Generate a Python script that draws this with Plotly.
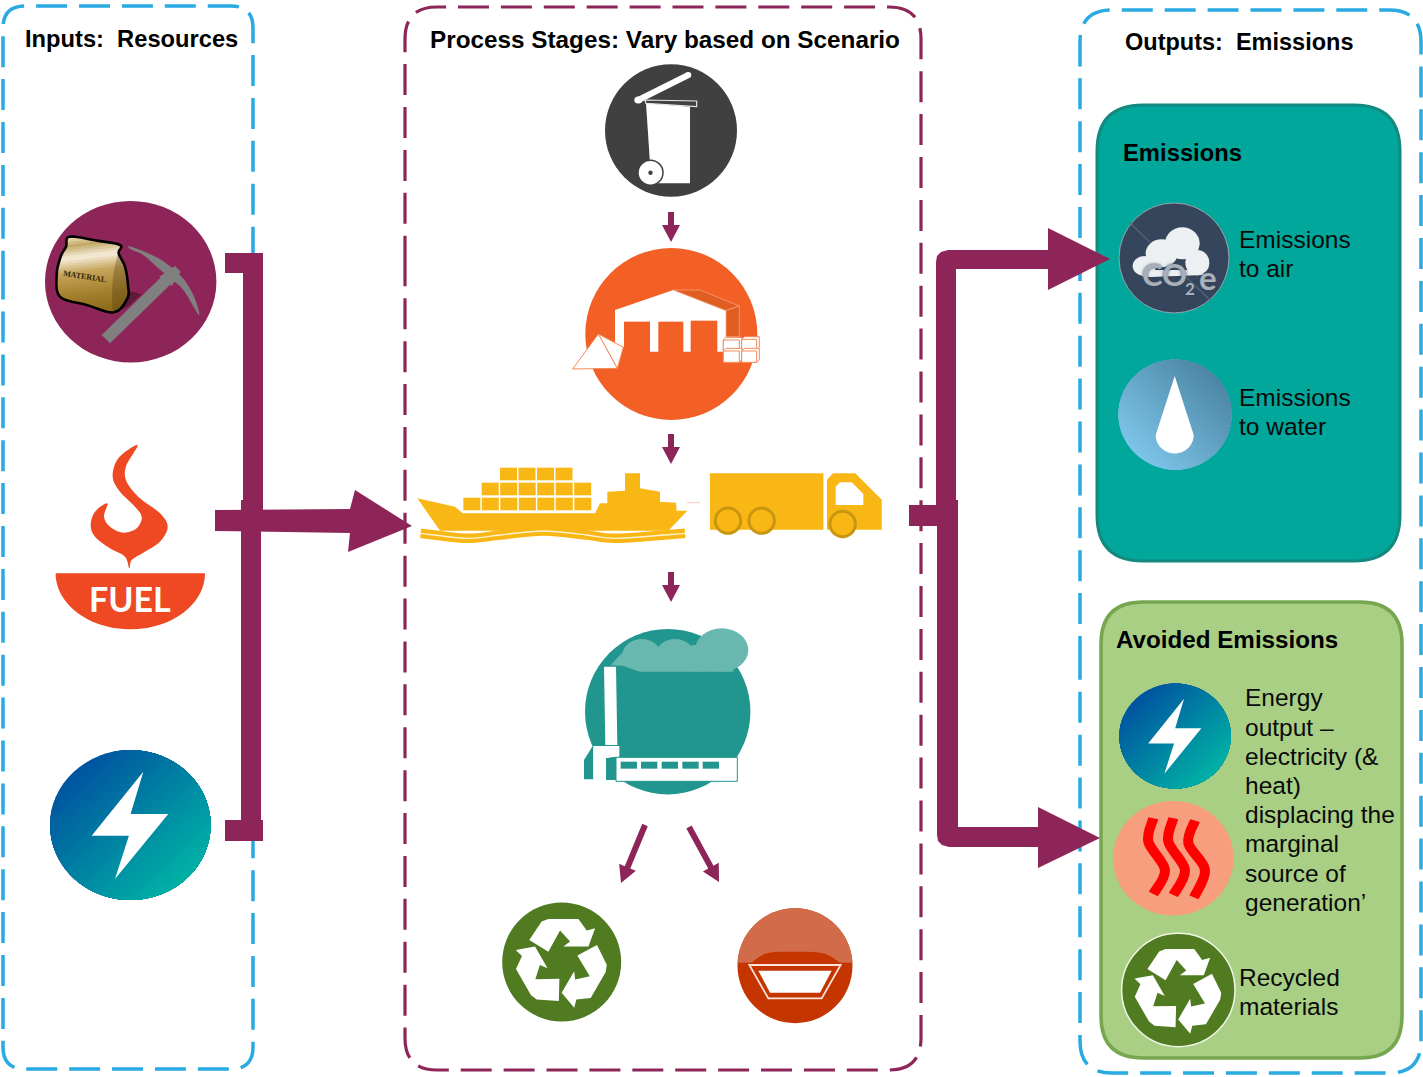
import numpy as np
import plotly.graph_objects as go

# ---------- palette ----------
BLUE = "#29ABE2"; PURPLE = "#8E2558"; TEAL = "#00A79A"; GREEN_BOX = "#A9CF85"; GREEN_EDGE = "#76A74F"
BIN = "#404040"; ORANGE = "#F26026"; YELLOW = "#F9B716"; FACTORY = "#21968E"; CLOUD = "#68B8B0"
RECYCLE = "#507B20"; FUEL = "#EF4923"; NAVY = "#35465C"

# ---------- texts: (text, left x, middle y, size) ----------
bold_labels = [("Inputs:  Resources", 23, 39, 23.7), ("Process Stages: Vary based on Scenario", 428, 39, 24.3),
               ("Outputs:  Emissions", 1123, 42, 23.5), ("Emissions", 1121, 152, 23.8), ("Avoided Emissions", 1114, 639, 24.2)]
body_labels = [("Emissions", 1237, 239), ("to air", 1237, 268), ("Emissions", 1237, 397), ("to water", 1237, 426),
               ("Energy", 1243, 697), ("output –", 1243, 727), ("electricity (&", 1243, 756), ("heat)", 1243, 785),
               ("displacing the", 1243, 814), ("marginal", 1243, 843), ("source of", 1243, 873), ("generation’", 1243, 902),
               ("Recycled", 1237, 977), ("materials", 1237, 1006)]

# ---------- panels: x0, y0, x1, y1, radius; dash phase y on the left side ----------
panel_inputs = (3, 6, 253, 1069, 22)
panel_process = (405, 7, 921, 1070, 32)
panel_outputs = (1080, 10, 1421, 1073, 32)
phase_inputs, phase_process, phase_outputs = 281.7, 266.7, 667.0
box_emissions = (1097, 105, 1400, 561, 46)
box_avoided = (1101, 602, 1402, 1058, 42)

# ---------- connectors ----------
bracket_left = [[(225, 253), (263, 253), (263, 510), (243, 510), (243, 273), (225, 273)],
                [(241, 500), (261, 500), (261, 820), (263, 820), (263, 841), (225, 841), (225, 820), (241, 820)]]
main_left = [(215, 510), (350, 509), (355, 490), (412, 526), (348, 552), (350, 533), (215, 531)]
upper_right = [(936, 262), (937, 256), (941, 252), (948, 250), (1048, 250), (1048, 228), (1110, 259), (1048, 290), (1048, 269),
               (956, 269), (956, 510), (936, 510)]
lower_right = [(937, 500), (958, 500), (958, 827), (1038, 827), (1038, 807), (1100, 838), (1038, 868), (1038, 847),
               (949, 847), (942, 845), (938, 841), (937, 835)]
stub_right = [(909, 505), (955, 505), (955, 526), (909, 526)]
small_arrows = [((671, 212), (671, 242)), ((671, 434), (671, 464)), ((671, 572), (671, 602)),
                ((645, 825), (621, 883)), ((689, 827), (719, 882))]

# ---------- icon outlines (picture pixels x3 around an origin) ----------
bin_body = [(738, 160), (870, 170), (870, 400), (770, 400), (750, 340)]
bin_hinge = [(735, 150), (890, 153), (890, 170), (738, 160)]
bin_lid = [(715, 150), (865, 75)]
wh_white = [(645, 780), (820, 720), (978, 780), (978, 905), (645, 905)]
wh_door1 = [(672, 815), (750, 815), (750, 906), (672, 906)]
wh_door2 = [(775, 815), (850, 815), (850, 906), (775, 906)]
wh_door3 = [(872, 812), (952, 812), (952, 906), (872, 906)]
wh_roof = [(820, 720), (900, 720), (1018, 768), (978, 782)]
wh_wall = [(978, 782), (1018, 768), (1018, 860), (978, 860)]
wh_low = [(640, 880), (675, 892), (660, 960), (640, 960)]
pile_front = [(595, 852), (518, 957), (652, 955)]
pile_side = [(595, 852), (670, 892), (652, 955)]
crates = [(970, 870, 1018, 902), (1025, 868, 1070, 900), (970, 903, 1018, 937), (1025, 903, 1070, 937)]
ship_hull = [(52, 1345), (165, 1370), (188, 1390), (585, 1390), (600, 1360), (622, 1360), (622, 1325), (675, 1322),
             (675, 1270), (720, 1270), (720, 1315), (780, 1325), (780, 1355), (828, 1358), (830, 1382), (862, 1382),
             (805, 1442), (120, 1442)]
ship_wave = [(62, 1450), (200, 1465), (300, 1455), (430, 1443), (560, 1455), (650, 1465), (855, 1450)]
container_rows = [(300, 1253, 4), (245, 1298, 6), (190, 1343, 7)]
truck_box = [(932, 1272), (1268, 1272), (1268, 1437), (932, 1437)]
truck_cab = [(1283, 1437), (1283, 1290), (1300, 1272), (1365, 1272), (1443, 1350), (1443, 1437)]
truck_window = [(1307, 1310), (1320, 1297), (1355, 1297), (1390, 1332), (1390, 1365), (1307, 1365)]
truck_wheels = [(984, 1412), (1085, 1412), (1328, 1422)]
fac_cloud_lobes = [(485, 285, 58, 48), (585, 285, 58, 48), (725, 270, 80, 65), (650, 295, 60, 40)]
fac_cloud_base = [(392, 315), (425, 280), (760, 280), (760, 335), (480, 335), (430, 318)]
fac_chimney = [(372, 320), (408, 320), (412, 555), (376, 555)]
fac_left = [(340, 555), (312, 600), (312, 658), (340, 658)]
fac_block = [(340, 558), (418, 558), (418, 590), (378, 595), (378, 655), (340, 655)]
fac_gap = [(378, 595), (408, 590), (408, 660), (378, 660)]
fac_hall = [(408, 592), (772, 592), (772, 664), (408, 664)]
fac_windows = [422, 483, 545, 607, 668]
recycle_arm = [(148, 1140), (185, 1085), (205, 1077), (295, 1077), (320, 1112), (345, 1105), (325, 1160), (250, 1160),
               (270, 1145), (240, 1112), (205, 1175)]
skip_bump = [(810, 1212), (860, 1180), (940, 1175), (1030, 1180), (1085, 1212)]
skip_outer = [(808, 1215), (1082, 1215), (1025, 1315), (865, 1315)]
skip_inner = [(835, 1232), (1055, 1232), (1020, 1298), (870, 1298)]
bag_outline = [(88, 35), (165, 46), (240, 60), (236, 85), (255, 125), (264, 180), (262, 220), (222, 262), (140, 240),
               (60, 215), (50, 150), (62, 95), (78, 65)]
bag_side = [(236, 85), (255, 125), (264, 180), (262, 220), (222, 262), (218, 170)]
bag_shadow = [(255, 195), (305, 208), (262, 245), (225, 265)]
bag_stops = [(0.0, "#EFE0B4"), (0.10, "#C2A766"), (0.26, "#F6EEDC"), (0.45, "#C7A45A"), (0.75, "#A17F2B"), (1.0, "#8A6A18")]
pick_handle = [(305, 465), (490, 285), (515, 310), (330, 490)]
pick_collar = [(478, 290), (525, 258), (542, 275), (515, 318)]
pick_head = [(392, 200), (470, 232), (540, 285), (580, 345), (597, 405), (550, 330), (510, 295), (470, 260), (430, 225), (392, 208)]
flame = [(413, 795), (378, 860), (380, 905), (420, 955), (480, 1000), (503, 1040), (480, 1085), (430, 1118), (395, 1140),
         (388, 1165), (375, 1130), (330, 1105), (285, 1070), (272, 1035), (285, 995), (322, 970), (312, 1010), (330, 1040),
         (370, 1058), (410, 1045), (425, 1010), (400, 975), (360, 935), (338, 890), (355, 835)]
bolt_unit = [(.162, -.711), (.004, -.147), (.473, -.147), (-.191, .72), (-.017, .142), (-.481, .142)]
co2_lobes = [(163, 228, 35, 30), (215, 190, 48, 42), (277, 160, 52, 48), (322, 218, 36, 38)]
co2_base = [(140, 240), (340, 240), (340, 255), (160, 262)]
heat_waves = [[(190, 445), (175, 515), (225, 600), (190, 672)], [(250, 445), (235, 515), (285, 600), (250, 675)],
              [(315, 452), (295, 520), (345, 600), (312, 682)]]

shapes = []


def Z(ox, oy, pts):
    return [(ox + x / 3, oy + y / 3) for x, y in pts]


def add_path(path, fill=None, line=None, width=0, dash=None):
    ln = dict(width=width, color=line or "rgba(0,0,0,0)")
    if dash:
        ln["dash"] = dash
    shapes.append(dict(type="path", xref="x", yref="y", path=path, line=ln,
                       fillcolor=fill or "rgba(0,0,0,0)", layer="above"))


def poly_path(pts):
    return "M" + " L".join(f"{x:.2f},{y:.2f}" for x, y in pts) + " Z"


def poly(pts, fill, line=None, width=0):
    add_path(poly_path(pts), fill, line, width)


def catmull_segments(p, closed):
    n = len(p)
    segs = n if closed else n - 1
    for i in range(segs):
        if closed:
            a, b, c, d = p[(i - 1) % n], p[i], p[(i + 1) % n], p[(i + 2) % n]
        else:
            a, b, c, d = p[max(i - 1, 0)], p[i], p[i + 1], p[min(i + 2, n - 1)]
        c1 = (b[0] + (c[0] - a[0]) / 6, b[1] + (c[1] - a[1]) / 6)
        c2 = (c[0] - (d[0] - b[0]) / 6, c[1] - (d[1] - b[1]) / 6)
        yield b, c1, c2, c


def smooth_path(pts, closed=True):
    p = list(pts)
    out = f"M{p[0][0]:.2f},{p[0][1]:.2f}"
    for _, c1, c2, c in catmull_segments(p, closed):
        out += f" C{c1[0]:.2f},{c1[1]:.2f} {c2[0]:.2f},{c2[1]:.2f} {c[0]:.2f},{c[1]:.2f}"
    return out + (" Z" if closed else "")


def sample_closed(pts, each=8):
    out = []
    for b, c1, c2, c in catmull_segments(list(pts), True):
        for t in np.linspace(0, 1, each, endpoint=False):
            m = 1 - t
            out.append((m ** 3 * b[0] + 3 * m * m * t * c1[0] + 3 * m * t * t * c2[0] + t ** 3 * c[0],
                        m ** 3 * b[1] + 3 * m * m * t * c1[1] + 3 * m * t * t * c2[1] + t ** 3 * c[1]))
    return out


def clip_half(pts, d, limit):
    out = []
    n = len(pts)
    for i in range(n):
        a, b = pts[i], pts[(i + 1) % n]
        da, db = a[0] * d[0] + a[1] * d[1] - limit, b[0] * d[0] + b[1] * d[1] - limit
        if da >= 0:
            out.append(a)
        if da * db < 0:
            t = da / (da - db)
            out.append((a[0] + (b[0] - a[0]) * t, a[1] + (b[1] - a[1]) * t))
    return out


def circle(cx, cy, rx, ry, fill, line=None, width=0):
    shapes.append(dict(type="circle", xref="x", yref="y", x0=cx - rx, x1=cx + rx, y0=cy - ry, y1=cy + ry,
                       fillcolor=fill, line=dict(width=width, color=line or "rgba(0,0,0,0)"), layer="above"))


def round_rect(box, fill=None, line=None, width=0, dash=None, start=None):
    x0, y0, x1, y1, r = box
    s = start if start is not None else y0 + r
    path = (f"M{x0},{s} L{x0},{y0 + r} Q{x0},{y0} {x0 + r},{y0} L{x1 - r},{y0} Q{x1},{y0} {x1},{y0 + r} L{x1},{y1 - r} "
            f"Q{x1},{y1} {x1 - r},{y1} L{x0 + r},{y1} Q{x0},{y1} {x0},{y1 - r} L{x0},{s}")
    add_path(path + (" Z" if fill else ""), fill, line, width, dash)


def arrow(start, tip, shaft=6.0, head=18.0, length=17.0):
    s, t = np.array(start, float), np.array(tip, float)
    u = (t - s) / np.linalg.norm(t - s)
    n = np.array([-u[1], u[0]])
    b = t - u * length
    pts = [s + n * shaft / 2, b + n * shaft / 2, b + n * head / 2, t, b - n * head / 2, b - n * shaft / 2, s - n * shaft / 2]
    poly([tuple(p) for p in pts], PURPLE)


def mix(a, b, f):
    ca = [int(a[i:i + 2], 16) for i in (1, 3, 5)]
    cb = [int(b[i:i + 2], 16) for i in (1, 3, 5)]
    return "#" + "".join(f"{round(x + (y - x) * f):02X}" for x, y in zip(ca, cb))


def gradient_disc(cx, cy, rx, ry, c0, c1, direction, steps=26):
    d = np.array(direction, float)
    d /= np.linalg.norm(d)
    circle(cx, cy, rx, ry, c0)
    for i in range(1, steps):
        limit = -1 + 2 * i / steps
        base = np.arctan2(d[1], d[0])
        half = np.arccos(limit)
        th = np.linspace(base - half, base + half, 50)
        poly([(cx + rx * np.cos(a), cy + ry * np.sin(a)) for a in th], mix(c0, c1, i / (steps - 1)))


def bolt(cx, cy, rx, ry):
    poly([(cx + rx * x, cy + ry * y) for x, y in bolt_unit], "#FFFFFF")


def recycle(cx, cy, r, edge=None):
    circle(cx, cy, r, r, RECYCLE, edge, 1.5 if edge else 0)
    k = r / 178.0
    for deg in (0, 120, 240):
        a = np.radians(deg)
        pts = []
        for x, y in recycle_arm:
            dx, dy = x - 245, y - 1206
            pts.append((cx + (dx * np.cos(a) - dy * np.sin(a)) * k, cy + (dx * np.sin(a) + dy * np.cos(a)) * k))
        poly(pts, "#FFFFFF")


def ellipses(ox, oy, lobes, fill):
    for x, y, rx, ry in lobes:
        (cx, cy), = Z(ox, oy, [(x, y)])
        circle(cx, cy, rx / 3, ry / 3, fill)


# ---------- panels ----------
DASH = "31px,11.9px"
round_rect(panel_inputs, None, BLUE, 3.5, DASH, phase_inputs)
round_rect(panel_process, None, PURPLE, 3.2, DASH, phase_process)
round_rect(panel_outputs, None, BLUE, 3.5, DASH, phase_outputs)
round_rect(box_emissions, TEAL, "#13897F", 3)
round_rect(box_avoided, GREEN_BOX, GREEN_EDGE, 3.5)

# ---------- connectors ----------
for part in bracket_left:
    poly(part, PURPLE)
poly(main_left, PURPLE)
poly(upper_right, PURPLE)
poly(lower_right, PURPLE)
poly(stub_right, PURPLE)
for s, t in small_arrows:
    arrow(s, t)

# ---------- waste bin ----------
O1 = (400, 50)
circle(671, 130.5, 66, 66.2, BIN)
poly(Z(*O1, bin_body), "#FFFFFF")
a, b = Z(*O1, bin_lid)
add_path(f"M{a[0]},{a[1]} L{b[0]},{b[1]}", None, "#FFFFFF", 6)
circle(a[0], a[1], 4, 3.5, "#FFFFFF")
circle(b[0], b[1], 3, 3, "#FFFFFF")
poly(Z(*O1, bin_hinge), BIN, "#E8E8E8", 1.2)
circle(650.5, 172.7, 12.5, 12.5, "#FFFFFF", BIN, 1.5)
circle(650.5, 172.7, 2.2, 2.2, BIN)

# ---------- processing plant ----------
circle(671.3, 334, 86, 86, ORANGE)
poly(Z(*O1, wh_white), "#FFFFFF")
for d in (wh_door1, wh_door2, wh_door3):
    poly(Z(*O1, d), ORANGE)
poly(Z(*O1, wh_roof), "#E05E22", "#F8A884", 0.7)
poly(Z(*O1, wh_wall), "#E05E22", "#F8A884", 0.7)
poly(Z(*O1, wh_low), ORANGE)
poly(Z(*O1, pile_side), "#FFFFFF", "#F58A5A", 1)
poly(Z(*O1, pile_front), "#FFFFFF", "#F58A5A", 1)
for x0, y0, x1, y1 in crates:
    poly(Z(*O1, [(x0 + 8, y0 - 8), (x1 + 8, y0 - 8), (x1 + 8, y1 - 8), (x1, y1), (x0, y1), (x0, y0)]), "#FFFFFF", "#F58A5A", 1)
    poly(Z(*O1, [(x0, y0), (x1, y0), (x1, y1), (x0, y1)]), "#FFFFFF", "#F58A5A", 1)

# ---------- ship and truck ----------
poly(Z(*O1, ship_hull), YELLOW)
for x0, y0, n in container_rows:
    for i in range(n):
        poly(Z(*O1, [(x0 + i * 55.5, y0), (x0 + i * 55.5 + 51, y0), (x0 + i * 55.5 + 51, y0 + 38), (x0 + i * 55.5, y0 + 38)]), YELLOW)
add_path(smooth_path(Z(*O1, ship_wave), False), None, YELLOW, 9.5)
add_path(smooth_path(Z(*O1, ship_wave), False), None, "#FFF3CF", 1.4)
add_path("M687,502.7 L700,502.7", None, "#F9C9BC", 1)
poly(Z(*O1, truck_box), YELLOW, YELLOW, 1.5)
poly(Z(*O1, truck_cab), YELLOW, YELLOW, 1.5)
poly(Z(*O1, truck_window), "#FFFFFF")
for x, y in Z(*O1, truck_wheels):
    circle(x, y, 12.7, 12.7, YELLOW, "#C9960F", 3)

# ---------- energy-from-waste plant ----------
O2 = (480, 560)
circle(667.7, 711.7, 82.7, 82.7, FACTORY)
ellipses(*O2, fac_cloud_lobes, CLOUD)
poly(Z(*O2, fac_cloud_base), CLOUD)
poly(Z(*O2, fac_left), FACTORY)
poly(Z(*O2, fac_chimney), "#FFFFFF")
poly(Z(*O2, fac_block), "#FFFFFF")
poly(Z(*O2, fac_gap), FACTORY)
poly(Z(*O2, fac_hall), "#FFFFFF", FACTORY, 1)
for x0 in fac_windows:
    poly(Z(*O2, [(x0, 605), (x0 + 49, 605), (x0 + 49, 626), (x0, 626)]), FACTORY)

# ---------- recycling and disposal ----------
recycle(561.7, 962, 59.5)
circle(795, 965.7, 57.5, 57.5, "#C43500")
th = np.linspace(np.radians(183), np.radians(357), 60)
poly([(795 + 57.5 * np.cos(a), 965.7 + 57.5 * np.sin(a)) for a in th], "#D26B49")
add_path(smooth_path(Z(*O2, skip_bump), False) + " Z", "#C43500")
poly(Z(*O2, skip_outer), "#C43500", "#FAE3DA", 1.8)
poly(Z(*O2, skip_inner), "#FFFFFF")

# ---------- material input ----------
O3 = (0, 180)
O6 = (40, 225)
circle(130.7, 281.7, 85.7, 80.8, PURPLE)
poly(Z(*O6, bag_shadow), "#5E1838")
bag_pts = sample_closed(Z(*O6, bag_outline))
dirv = (0.12, 0.993)
vals = [p[0] * dirv[0] + p[1] * dirv[1] for p in bag_pts]
lo, hi = min(vals), max(vals)
steps = 30
for i in range(steps):
    f = i / (steps - 1)
    for (f0, c0), (f1, c1) in zip(bag_stops, bag_stops[1:]):
        if f0 <= f <= f1:
            col = mix(c0, c1, (f - f0) / (f1 - f0))
            break
    part = clip_half(bag_pts, dirv, lo + (hi - lo) * i / steps)
    if len(part) > 2:
        poly(part, col)
add_path(smooth_path(Z(*O6, bag_side)), "rgba(70,50,10,0.30)")
add_path(poly_path(bag_pts), None, "#000000", 2.6)
poly(Z(*O3, pick_handle), "#808080")
poly(Z(*O3, pick_collar), "#808080")
add_path(smooth_path(Z(*O3, pick_head)), "#808080")

# ---------- fuel input ----------
add_path(smooth_path(Z(*O3, flame)), FUEL)
th = np.linspace(0, np.pi, 50)
poly([(130.3 + 74.7 * np.cos(a), 573.3 + 56 * np.sin(a)) for a in th], FUEL)

# ---------- power input ----------
gradient_disc(130.3, 825, 80.3, 75, "#0055A0", "#00B0A5", (1, 1))
bolt(130.3, 825, 80.3, 75)

# ---------- output icons ----------
O4 = (1090, 190)
circle(1174, 258, 55, 55, NAVY, "#AEB7C0", 0.8)
add_path("M1130,223 L1210,300", None, "#55657A", 1.2)
ellipses(*O4, co2_lobes, "#EDF0F2")
poly(Z(*O4, co2_base), "#EDF0F2")
gradient_disc(1175, 414.7, 56.5, 55, "#7CC4E8", "#4E87A6", (1, -1))
drop_tip = (1174.7, 376)
th = np.linspace(0, np.pi, 30)
poly([drop_tip] + [(1174.7 + 19 * np.cos(a), 435 + 18.5 * np.sin(a)) for a in th], "#FFFFFF")

gradient_disc(1175, 736, 55.8, 52.5, "#0055A0", "#00B0A5", (1, 1))
bolt(1175, 736, 55.8, 52.5)
O5 = (1090, 670)
circle(1173.3, 858.3, 60.3, 57.3, "#F79E7E")
for wave in heat_waves:
    add_path(smooth_path(Z(*O5, wave), False), None, "#FF0000", 10)
recycle(1178.3, 990, 56.7, "#F0F5E8")

# ---------- text ----------
annotations = []


def label(text, x, y, size, bold=False, color="#000000", font="Liberation Sans", anchor="left", angle=0, shadow=None):
    f = dict(family=font, size=size, color=color, weight="bold" if bold else "normal")
    if shadow:
        f["shadow"] = shadow
    annotations.append(dict(text=text, x=x, y=y, xref="x", yref="y", showarrow=False, xanchor=anchor, yanchor="middle",
                            font=f, textangle=angle, align="left"))


for t, x, y, size in bold_labels:
    label(t, x, y, size, True)
for t, x, y in body_labels:
    label(t, x, y, 24.5, False, "#0A0A0A")
label("FUEL", 130, 598, 34, True, "#FFFFFF", "Lato", "center")
label("MATERIAL", 84.3, 276.7, 8, True, "#33250A", "Liberation Serif", "center", 9)
label("CO", 1164, 274, 31, True, "#AAB0BA", "Lato", "center", shadow="0 0 3px #35465C")
label("2", 1189.5, 288, 17, True, "#AAB0BA", "Lato", "center", shadow="0 0 3px #35465C")
label("e", 1208, 277, 33, True, "#AAB0BA", "Lato", "center", shadow="0 0 3px #35465C")

fig = go.Figure()
fig.update_layout(width=1423, height=1077, margin=dict(l=0, r=0, t=0, b=0), paper_bgcolor="#FFFFFF", plot_bgcolor="#FFFFFF",
                  showlegend=False, shapes=shapes, annotations=annotations,
                  xaxis=dict(range=[0, 1423], visible=False, fixedrange=True),
                  yaxis=dict(range=[1077, 0], visible=False, fixedrange=True))
fig.write_html("out.html", config=dict(displayModeBar=False),
               post_script="document.body.style.margin='0';document.documentElement.style.overflow='hidden';")
